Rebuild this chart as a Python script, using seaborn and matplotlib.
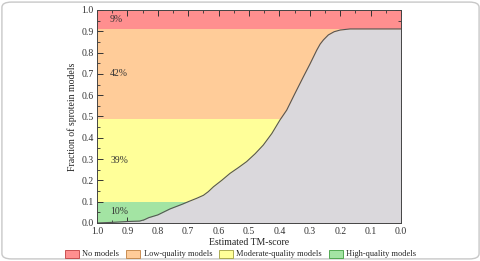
import numpy as np
import pandas as pd
import matplotlib
matplotlib.use("Agg")
import matplotlib.pyplot as plt
from matplotlib.patches import Patch, FancyBboxPatch
from matplotlib.ticker import MultipleLocator, FormatStrFormatter
import seaborn as sns

# Curve: estimated TM-score vs cumulative fraction
tm_score = [1.0, 0.95, 0.90, 0.86, 0.845, 0.83, 0.80, 0.76, 0.72, 0.70, 0.672,
            0.65, 0.634, 0.617, 0.59, 0.5625, 0.535, 0.508, 0.48, 0.453, 0.425,
            0.398, 0.376, 0.35, 0.321, 0.30, 0.277, 0.266, 0.255, 0.239, 0.22,
            0.20, 0.168, 0.0]
fraction = [0.0, 0.003, 0.007, 0.009, 0.015, 0.025, 0.038, 0.066, 0.088, 0.100,
            0.116, 0.130, 0.147, 0.170, 0.200, 0.233, 0.260, 0.288, 0.325, 0.366,
            0.420, 0.484, 0.530, 0.605, 0.687, 0.745, 0.812, 0.840, 0.860, 0.883,
            0.898, 0.906, 0.911, 0.911]

# Quality bands (bottom, top) and labels
band_names = ["No models", "Low-quality models", "Moderate-quality models", "High-quality models"]
band_bottoms = [0.911, 0.487, 0.098, 0.0]
band_tops = [1.0, 0.911, 0.487, 0.098]
band_labels = ["9%", "42%", "39%", "10%"]
band_label_y = [0.955, 0.70, 0.295, 0.055]
band_colors = ["#ff8f8f", "#ffcc99", "#ffff99", "#a3e4a3"]
band_edges = ["#c04040", "#c08040", "#a0a040", "#40a040"]

df = pd.DataFrame({"tm": tm_score, "frac": fraction})

sns.set_style("ticks")
plt.rcParams["font.family"] = "serif"
plt.rcParams["font.serif"] = ["Liberation Serif", "DejaVu Serif"]
plt.rcParams["font.size"] = 7

fig = plt.figure(figsize=(4.81, 2.61), dpi=100)
ax = fig.add_axes([0.2017, 0.1456, 0.632, 0.8161])

for b, t, c in zip(band_bottoms, band_tops, band_colors):
    ax.axhspan(b, t, color=c, lw=0, zorder=0)

ax.fill_between(df["tm"], 0, df["frac"], color="#dad8dc", lw=0, zorder=1)
sns.lineplot(data=df, x="tm", y="frac", ax=ax, color="#555555", lw=0.8,
             sort=False, estimator=None, zorder=2)

for lab, y in zip(band_labels, band_label_y):
    ax.text(0.957, y, lab, ha="left", va="center", fontsize=7, color="#333333", zorder=3)

ax.set_xlim(1.0, 0.0)
ax.set_ylim(0.0, 1.0)
ax.xaxis.set_major_locator(MultipleLocator(0.1))
ax.xaxis.set_minor_locator(MultipleLocator(0.05))
ax.yaxis.set_major_locator(MultipleLocator(0.1))
ax.yaxis.set_minor_locator(MultipleLocator(0.05))
ax.xaxis.set_major_formatter(FormatStrFormatter("%.1f"))
ax.yaxis.set_major_formatter(FormatStrFormatter("%.1f"))
ax.tick_params(which="both", direction="in", top=True, right=True, colors="#333333",
               labelcolor="#333333", labelsize=7, pad=2.5)
ax.tick_params(axis="x", pad=3)
ax.tick_params(which="major", length=4, width=0.7)
ax.tick_params(which="minor", length=2, width=0.6)
for s in ax.spines.values():
    s.set_color("#444444")
    s.set_linewidth(0.7)
    s.set_visible(True)

ax.set_xlabel("Estimated TM-score", fontsize=7, labelpad=1, color="#222222")
ax.set_ylabel("Fraction of sprotein models", fontsize=7, labelpad=3, color="#222222")

handles = [Patch(facecolor=c, edgecolor=e, lw=0.6) for c, e in zip(band_colors, band_edges)]
fig.legend(handles, band_names, loc="center", bbox_to_anchor=(0.5, 0.027), ncol=4,
           frameon=False, fontsize=6, handlelength=1.7, handleheight=1.1,
           handletextpad=0.4, columnspacing=0.8, borderaxespad=0)

border = FancyBboxPatch((0.004, 0.008), 0.992, 0.984, boxstyle="round,pad=0,rounding_size=0.02",
                        transform=fig.transFigure, fill=False, edgecolor="#c8c8c8", lw=1.0)
fig.patches.append(border)

fig.savefig("out.png", dpi=100)
